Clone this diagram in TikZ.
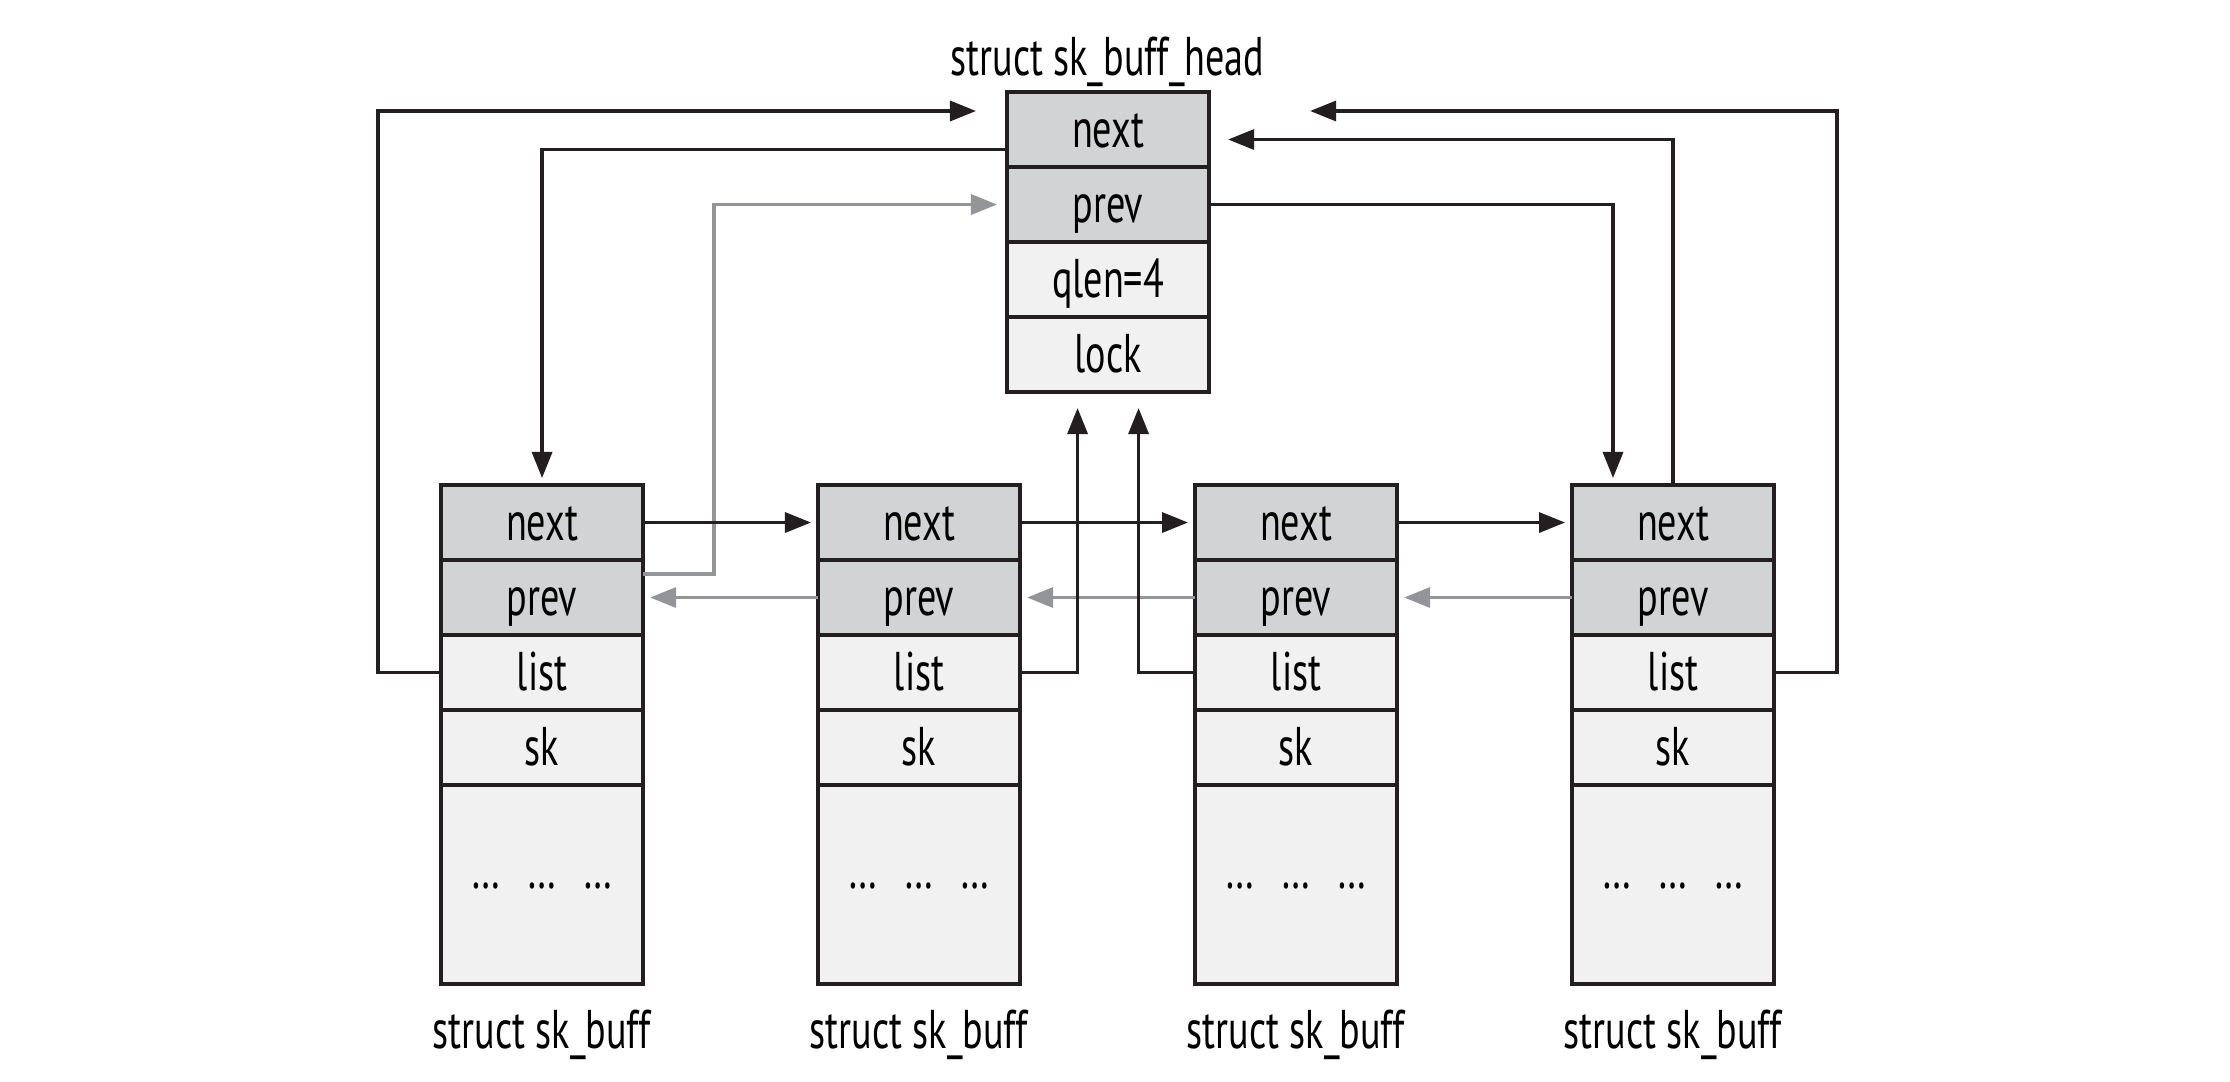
\documentclass[tikz,border=0pt]{standalone}
\usepackage{fontspec}
\setmainfont{PT Sans}[FakeStretch=0.70]
\usetikzlibrary{arrows.meta,calc}
\definecolor{ink}{HTML}{231F20}
\definecolor{darkcell}{HTML}{D1D3D4}
\definecolor{lightcell}{HTML}{F1F1F2}
\definecolor{grayline}{HTML}{939598}
\begin{document}
\begin{tikzpicture}[x=0.01cm,y=-0.01cm,
  cell/.style={draw=ink, line width=1.1pt, minimum width=2.02cm, minimum height=0.75cm,
    inner sep=0pt, outer sep=0pt, font=\fontsize{15.5}{17}\selectfont, text height=12pt, text depth=2pt, anchor=north west},
  hot/.style={cell, fill=darkcell},
  cold/.style={cell, fill=lightcell},
  dotcell/.style={cell, fill=lightcell, minimum height=1.99cm, text height=2pt, text depth=0pt},
  conn/.style={draw=ink, line width=0.95pt, -{Triangle[length=0.26cm,width=0.2cm]}},
  back/.style={draw=grayline, line width=0.95pt, -{Triangle[length=0.26cm,width=0.2cm]}},
  lbl/.style={font=\fontsize{15.5}{17}\selectfont, anchor=base, inner sep=0pt}]
\fill[white] (0,0) rectangle (2230,1082);
\useasboundingbox (0,0) rectangle (2230,1082);
% head
\node[lbl] (htitle) at (1107.5,76) {struct sk\_buff\_head};
\node[hot]  (h-next) at (1007,92)  {next};
\node[hot]  (h-prev) at (1007,167) {prev};
\node[cold] (h-qlen) at (1007,242) {qlen=4};
\node[cold] (h-lock) at (1007,317) {lock};
% buffers
\foreach \i/\x in {1/441,2/818,3/1195,4/1572}{
  \node[hot]  (b\i-next) at (\x,485) {next};
  \node[hot]  (b\i-prev) at (\x,560) {prev};
  \node[cold] (b\i-list) at (\x,635) {list};
  \node[cold] (b\i-sk)   at (\x,710) {sk};
  \node[dotcell] (b\i-dots) at (\x,785) {…\hspace{0.5em}…\hspace{0.5em}…};
  \node[lbl] (b\i-title) at (\x+101,1048) {struct sk\_buff};
}
% gray prev links
\draw[back] ($(b1-prev.east)+(0,-23.5)$) -- ++(71,0) |- ($(h-prev.west)+(-10,0)$);
\draw[back] (b2-prev.west) -- ($(b1-prev.east)+(7,0)$);
\draw[back] (b3-prev.west) -- ($(b2-prev.east)+(7,0)$);
\draw[back] (b4-prev.west) -- ($(b3-prev.east)+(7,0)$);
% black links
\draw[conn] (b1-next.east) -- ($(b2-next.west)+(-7,0)$);
\draw[conn] (b2-next.east) -- ($(b3-next.west)+(-7,0)$);
\draw[conn] (b3-next.east) -- ($(b4-next.west)+(-7,0)$);
\draw[conn] (b1-list.west) -- ++(-63,0) |- ($(h-next.north west)+(-31,19)$);
\draw[conn] ($(h-next.west)+(0,20)$) -| ($(b1-next.north)+(0,-7)$);
\draw[conn] (h-prev.east) -| ($(b4-next.north west)+(41,-7)$);
\draw[conn] (b4-next.north) |- ($(h-next.east)+(19,10)$);
\draw[conn] (b4-list.east) -- ++(63,0) |- ($(h-next.north east)+(101,19)$);
\draw[conn] (b2-list.east) -| ($(h-lock.south)+(-30.5,16)$);
\draw[conn] (b3-list.west) -| ($(h-lock.south)+(30.5,16)$);
\end{tikzpicture}
\end{document}
